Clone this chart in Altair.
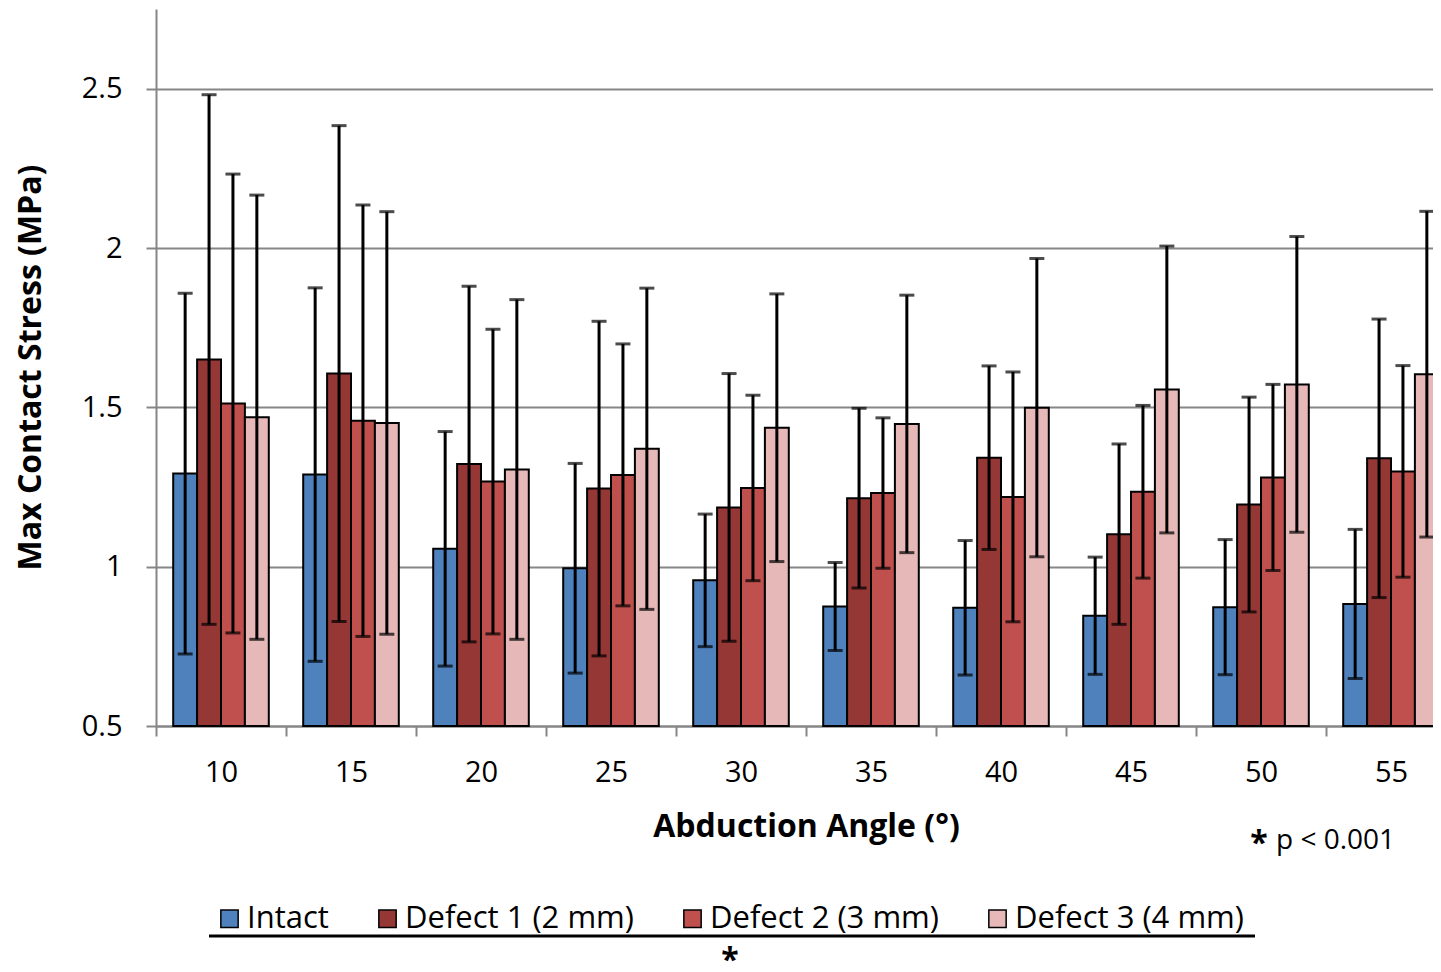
import altair as alt
import pandas as pd

angles = ["10", "15", "20", "25", "30", "35", "40", "45", "50", "55"]
series = ["Intact", "Defect 1 (2 mm)", "Defect 2 (3 mm)", "Defect 3 (4 mm)"]
colors = ["#4F81BD", "#953735", "#C0504D", "#E6B9B8"]

intact_mean = [1.292, 1.289, 1.056, 0.995, 0.957, 0.875, 0.871, 0.846, 0.873, 0.883]
intact_sd = [0.566, 0.586, 0.368, 0.329, 0.208, 0.138, 0.211, 0.184, 0.212, 0.234]
d1_mean = [1.650, 1.606, 1.322, 1.245, 1.186, 1.215, 1.342, 1.102, 1.195, 1.340]
d1_sd = [0.831, 0.778, 0.558, 0.525, 0.420, 0.282, 0.288, 0.283, 0.337, 0.437]
d2_mean = [1.512, 1.458, 1.267, 1.288, 1.247, 1.231, 1.219, 1.235, 1.280, 1.299]
d2_sd = [0.720, 0.677, 0.478, 0.411, 0.291, 0.236, 0.392, 0.271, 0.292, 0.332]
d3_mean = [1.469, 1.451, 1.305, 1.370, 1.436, 1.448, 1.499, 1.556, 1.572, 1.604]
d3_sd = [0.697, 0.663, 0.533, 0.504, 0.420, 0.404, 0.468, 0.450, 0.464, 0.511]

y_ticks = [0.5, 1, 1.5, 2, 2.5]

means = [intact_mean, d1_mean, d2_mean, d3_mean]
sds = [intact_sd, d1_sd, d2_sd, d3_sd]
rows = []
for s, m_list, sd_list in zip(series, means, sds):
    for a, m, sd in zip(angles, m_list, sd_list):
        rows.append({"angle": a, "series": s, "mean": m, "sd": sd})
df = pd.DataFrame(rows)

FONT = "Open Sans"
GRID = "#868686"

x_enc = alt.X(
    "angle:N", sort=angles,
    scale=alt.Scale(range=[0, 1300], paddingInner=0, paddingOuter=0),
    axis=alt.Axis(
        title="Abduction Angle (°)", labelAngle=0, tickBand="extent",
        domainColor=GRID, domainWidth=2, tickColor=GRID, tickWidth=2, tickSize=10,
        labelFont=FONT, labelFontSize=29, labelColor="black", labelPadding=22,
        titleFont=FONT, titleFontSize=32, titleFontWeight="bold", titleColor="black",
        titleX=650, titleY=100, titleBaseline="middle", titleAlign="center",
    ),
)
xo_enc = alt.XOffset("series:N", sort=series,
                     scale=alt.Scale(paddingOuter=0.72, paddingInner=0))

base = alt.Chart(df)

bars = base.mark_bar(stroke="black", strokeWidth=2).encode(
    x=x_enc,
    xOffset=xo_enc,
    y=alt.Y(
        "mean:Q",
        scale=alt.Scale(domain=[0.5, 2.75], nice=False, zero=False),
        axis=alt.Axis(
            title="Max Contact Stress (MPa)", values=y_ticks, format="~g",
            grid=True, gridColor=GRID, gridWidth=2,
            domainColor=GRID, domainWidth=2, tickColor=GRID, tickWidth=2, tickSize=10,
            labelFont=FONT, labelFontSize=29, labelColor="black", labelPadding=24,
            titleFont=FONT, titleFontSize=32, titleFontWeight="bold", titleColor="black",
            titleX=-126, titleY=358, titleAlign="center", titleBaseline="middle",
        ),
    ),
    y2=alt.datum(0.5),
    color=alt.Color(
        "series:N", sort=series,
        scale=alt.Scale(domain=series, range=colors),
        legend=alt.Legend(
            title=None, orient="none", direction="horizontal",
            legendX=58, legendY=894, padding=0,
            symbolType="square", symbolSize=300, symbolStrokeColor="black",
            symbolStrokeWidth=1.5, symbolOpacity=1,
            labelFont=FONT, labelFontSize=31, labelColor="black", labelLimit=0,
            labelOffset=2, columnPadding=43,
        ),
    ),
)

err = base.transform_calculate(
    lo="datum.mean - datum.sd", hi="datum.mean + datum.sd"
)
rules = err.mark_rule(color="black", strokeWidth=3).encode(
    x=alt.X("angle:N", sort=angles), xOffset=alt.XOffset("series:N", sort=series),
    y="lo:Q", y2="hi:Q",
)
cap_hi = err.mark_tick(color="black", orient="horizontal", size=15, thickness=3).encode(
    x=alt.X("angle:N", sort=angles), xOffset=alt.XOffset("series:N", sort=series),
    y="hi:Q",
)
cap_lo = err.mark_tick(color="black", orient="horizontal", size=15, thickness=3).encode(
    x=alt.X("angle:N", sort=angles), xOffset=alt.XOffset("series:N", sort=series),
    y="lo:Q",
)

note_df = pd.DataFrame({"t": ["p < 0.001"]})
star_df = pd.DataFrame({"t": ["*"]})
note = alt.Chart(note_df).mark_text(
    font=FONT, fontSize=28, align="left", baseline="middle", color="black"
).encode(x=alt.value(1120), y=alt.value(832), text="t:N")
star1 = alt.Chart(star_df).mark_text(
    font=FONT, fontSize=32, fontWeight="bold", align="center", baseline="middle", color="black"
).encode(x=alt.value(1103), y=alt.value(835), text="t:N")
line = alt.Chart(star_df).mark_rule(color="black", strokeWidth=3).encode(
    x=alt.value(53), x2=alt.value(1099), y=alt.value(927)
)
star2 = alt.Chart(star_df).mark_text(
    font=FONT, fontSize=32, fontWeight="bold", align="center", baseline="alphabetic", color="black"
).encode(x=alt.value(574), y=alt.value(962), text="t:N")

chart = alt.layer(bars, rules, cap_hi, cap_lo, note, star1, line, star2).properties(
    width=1277, height=717,
    autosize=alt.AutoSizeParams(type="none"),
    padding={"left": 148, "top": 1, "right": 0, "bottom": 238},
).configure_view(stroke=None)

chart.save("out.html", embed_options={"renderer": "svg", "actions": False})
